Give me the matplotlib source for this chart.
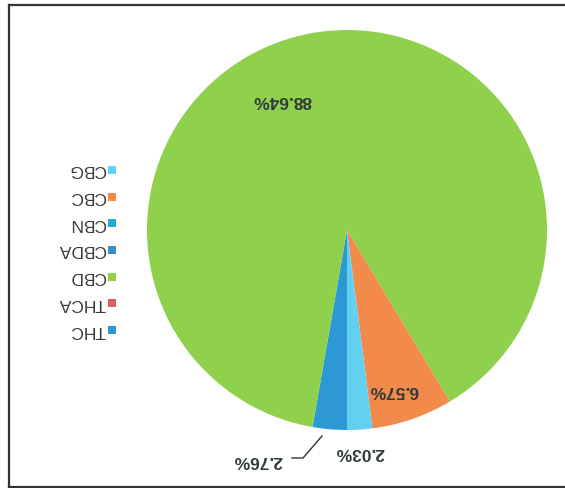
"""
Cannabinoid share pie, reproduced as scanned (page turned upside down).
"""

import matplotlib
matplotlib.use("Agg")
import matplotlib.pyplot as plt

plt.rcParams["font.family"] = ["Liberation Sans", "DejaVu Sans"]

# data (legend order of the original chart)
CATEGORIES = ["THC", "THCA", "CBD", "CBDA", "CBN", "CBC", "CBG"]
SHARES = [2.76, 0.0, 88.64, 0.0, 0.0, 6.57, 2.03]
COLORS = ["#2c98d4", "#d9606b", "#8fd04c", "#3a8ec8", "#2aa7cf", "#f28a4c", "#62d0f0"]

W, H = 565, 488
CENTER = (347, H - 230)   # pixel-ish coords, y measured from bottom
RADIUS = 200

# label placement (pixel coords from top-left, like the scan)
LABEL_POS = {"CBD": (282, 100), "CBC": (394, 391), "CBG": (360, 453), "THC": (258, 461)}


def main():
    fig = plt.figure(figsize=(W / 100, H / 100), dpi=100)
    ax = fig.add_axes([9 / W, 1 / H, (W - 9) / W, 482 / H])

    # start at 6 o'clock, clockwise -> same as an Excel pie turned 180 degrees
    ax.pie(SHARES, colors=COLORS, startangle=270, counterclock=False,
           center=CENTER, radius=RADIUS, frame=True,
           wedgeprops=dict(linewidth=0))

    ax.set_xlim(9, W)
    ax.set_ylim(1, H - 5)
    ax.set_aspect("equal", adjustable="box")
    ax.set_xticks([]); ax.set_yticks([])
    for side in ("left", "top", "bottom"):
        ax.spines[side].set_color("#333333")
        ax.spines[side].set_linewidth(1.6)
    ax.spines["right"].set_visible(False)

    # upside-down value labels
    for cat, val in zip(CATEGORIES, SHARES):
        if cat not in LABEL_POS:
            continue
        x, y = LABEL_POS[cat]
        ax.text(x, H - y, f"{val:.2f}%", rotation=180, ha="center", va="center",
                fontsize=12.5, fontweight="bold", color="#2f3a3a")

    # leader line for the THC label
    ax.plot([292, 303, 322], [H - 458, H - 458, H - 436], color="#333333", lw=1)

    # legend, upside down: first entry at the bottom, marker right of text
    y0, step = 330, 26.7
    for i, (cat, col) in enumerate(zip(CATEGORIES, COLORS)):
        y = H - (y0 - i * step)
        ax.scatter([112], [y], marker="s", s=26, color=col, linewidths=0)
        ax.text(106, y, cat, rotation=180, ha="right", va="center",
                fontsize=12.5, color="#3a3a3a")

    fig.savefig("out.png", dpi=100)
    plt.close(fig)


if __name__ == "__main__":
    main()
